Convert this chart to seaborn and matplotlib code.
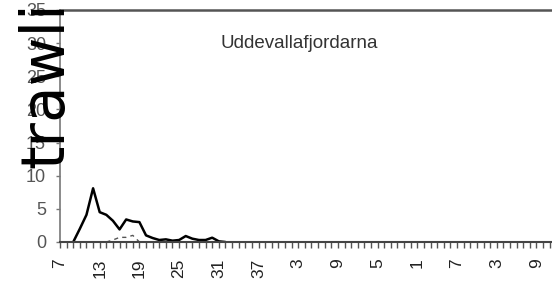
import matplotlib
matplotlib.use("Agg")
import matplotlib.pyplot as plt
import seaborn as sns
import pandas as pd
from matplotlib.ticker import MultipleLocator

sns.set_theme(style="ticks")
plt.rcParams['font.family'] = ['Liberation Sans', 'DejaVu Sans']

# --- data ---
lengths = list(range(9, 33))
trawl_catch = [0, 2.0, 4.1, 8.1, 4.5, 4.1, 3.2, 1.9, 3.4, 3.1, 3.0, 1.0,
               0.6, 0.3, 0.4, 0.2, 0.3, 0.9, 0.5, 0.3, 0.3, 0.65, 0.1, 0]
second_lengths = [14, 15, 16, 17, 18, 19]
second_catch = [0, 0.3, 0.7, 0.7, 1.0, 0]
x_ticks = [7, 13, 19, 25, 31, 37, 43, 49, 55, 61, 67, 73, 79]
x_labels = ["7", "13", "19", "25", "31", "37", "3", "9", "5", "1", "7", "3", "9"]
y_ticks = [0, 5, 10, 15, 20, 25, 30, 35]
title = "Uddevallafjordarna"
overlay = "trawli"

df1 = pd.DataFrame({"length": lengths, "catch": trawl_catch})
df2 = pd.DataFrame({"length": second_lengths, "catch": second_catch})

W, H = 552, 288
fig = plt.figure(figsize=(W / 100, H / 100), dpi=100)
ax = fig.add_axes([60 / W, 1 - 242 / H, 492 / W, 232 / H])

sns.lineplot(data=df2, x="length", y="catch", ax=ax, color="#555555",
             lw=1.0, linestyle=(0, (3, 3)))
sns.lineplot(data=df1, x="length", y="catch", ax=ax, color="black", lw=1.8)

ax.set_xlim(7.17, 81.35)
ax.set_ylim(0, 35)
ax.set_xlabel("")
ax.set_ylabel("")

ax.set_xticks(x_ticks)
ax.set_xticklabels(x_labels, rotation=90, fontsize=12.5, color="#222222")
ax.xaxis.set_minor_locator(MultipleLocator(1))
ax.tick_params(axis="x", which="both", direction="out", length=4, width=1,
               color="#555555", pad=8)
ax.set_yticks(y_ticks)
ax.set_yticklabels([str(v) for v in y_ticks], fontsize=13, color="#555555")
ax.tick_params(axis="y", direction="out", length=3, width=1,
               color="#777777", pad=7)

ax.spines["right"].set_visible(False)
ax.spines["top"].set_color("#555555")
ax.spines["top"].set_linewidth(1.8)
ax.spines["left"].set_color("#777777")
ax.spines["left"].set_linewidth(1.2)
ax.spines["bottom"].set_color("#444444")
ax.spines["bottom"].set_linewidth(1.5)

ax.text((220 - 60) / 492, (242 - 44) / 232, title, transform=ax.transAxes,
        ha="left", va="center", fontsize=13.5, color="#333333")

fig.text(63 / W, 1 - 168 / H, overlay, rotation=90, rotation_mode="anchor",
         ha="left", va="baseline", fontsize=43, color="black",
         family=["DejaVu Sans"], zorder=10)

fig.savefig("out.png", dpi=100)
